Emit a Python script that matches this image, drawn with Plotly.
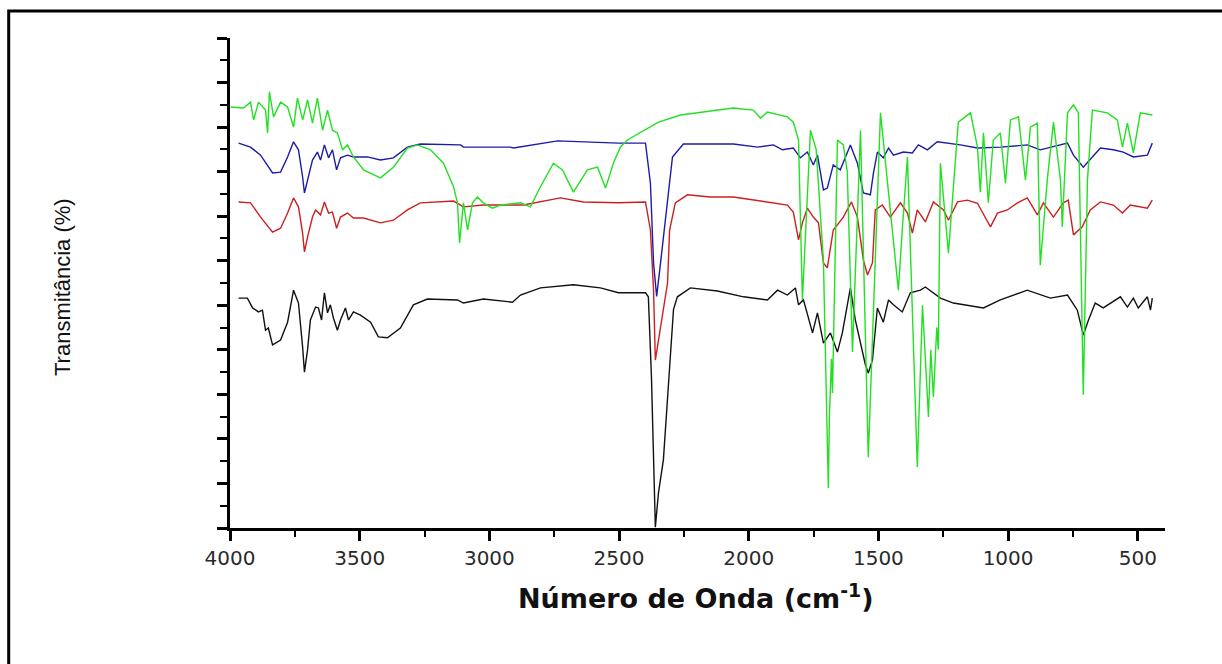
import plotly.graph_objects as go

# ---- Data (wavenumber in cm-1, transmittance in %) ----
black_wn = [3967, 3933, 3913, 3890, 3875, 3863, 3852, 3836, 3805, 3778, 3755, 3736, 3720, 3713, 3701,
            3690, 3670, 3659, 3647, 3636, 3624, 3613, 3601, 3586, 3574, 3555, 3543, 3524, 3497, 3458,
            3428, 3393, 3343, 3293, 3239, 3123, 3100, 3023, 2911, 2880, 2803, 2676, 2572, 2502, 2398,
            2387, 2375, 2367, 2360, 2348, 2329, 2310, 2290, 2275, 2225, 2121, 2020, 1928, 1889, 1851,
            1820, 1808, 1789, 1754, 1735, 1712, 1685, 1658, 1639, 1608, 1589, 1550, 1539, 1523, 1504,
            1481, 1461, 1442, 1408, 1377, 1338, 1319, 1288, 1261, 1211, 1095, 1030, 926, 837, 771,
            733, 710, 690, 664, 633, 606, 567, 540, 517, 498, 463, 451, 444]
black_t = [51.6, 51.6, 49.4, 48.5, 48.9, 44.4, 44.9, 41.1, 42.2, 46.2, 53.4, 50.5, 40.6, 35.0, 40.0,
           46.7, 49.6, 49.4, 46.7, 52.8, 48.3, 50.1, 47.1, 44.4, 46.7, 49.4, 46.7, 48.5, 47.8, 46.2,
           42.9, 42.7, 44.9, 50.1, 51.4, 51.2, 50.5, 51.4, 50.7, 52.3, 53.9, 54.6, 53.9, 52.8, 52.8,
           51.9, 33.9, 15.3, 0.2, 7.9, 15.3, 31.7, 49.1, 51.9, 53.9, 53.2, 51.9, 51.2, 53.4, 52.3,
           53.9, 50.1, 51.2, 43.8, 48.3, 41.5, 43.8, 39.5, 43.8, 53.9, 46.7, 36.6, 34.8, 37.7, 49.4,
           46.2, 51.2, 50.1, 48.5, 52.8, 53.4, 54.1, 52.8, 51.6, 50.5, 49.4, 51.2, 53.4, 51.6, 52.3,
           48.9, 43.3, 46.7, 50.5, 49.4, 50.5, 51.9, 49.6, 51.6, 49.4, 51.9, 48.9, 51.6]

red_wn = [3967, 3921, 3882, 3836, 3805, 3778, 3755, 3736, 3720, 3713, 3701, 3682, 3670, 3651, 3636,
          3620, 3605, 3589, 3574, 3547, 3524, 3485, 3420, 3370, 3316, 3266, 3138, 3100, 3023, 2869,
          2726, 2637, 2502, 2398, 2379, 2367, 2360, 2340, 2313, 2305, 2283, 2236, 2148, 2059, 1982,
          1916, 1851, 1828, 1808, 1793, 1774, 1751, 1731, 1712, 1697, 1674, 1635, 1604, 1581, 1558,
          1542, 1523, 1512, 1485, 1454, 1415, 1388, 1369, 1350, 1319, 1288, 1249, 1230, 1195, 1157,
          1118, 1068, 1041, 1003, 964, 926, 887, 864, 825, 787, 768, 748, 714, 683, 644,
          594, 559, 529, 463, 444]
red_t = [73.2, 73.0, 69.8, 66.4, 67.3, 70.7, 74.1, 72.1, 66.2, 62.0, 65.3, 69.8, 71.4, 70.3, 73.2,
         70.7, 70.9, 67.3, 69.8, 70.7, 69.6, 69.6, 68.5, 69.1, 71.4, 73.0, 73.4, 72.1, 72.5, 72.5,
         74.1, 73.2, 73.0, 73.2, 66.9, 53.4, 37.7, 45.1, 55.0, 66.9, 73.0, 74.8, 74.3, 74.3, 73.6,
         73.0, 72.5, 70.9, 64.7, 68.5, 71.8, 69.8, 68.5, 59.5, 58.4, 66.9, 69.8, 73.2, 69.8, 60.2,
         56.8, 59.5, 71.4, 72.5, 69.8, 73.0, 70.7, 66.2, 71.4, 68.7, 73.2, 71.4, 69.1, 73.2, 73.6,
         72.9, 67.6, 70.7, 71.4, 73.0, 74.1, 70.3, 73.0, 69.8, 73.0, 73.6, 65.8, 67.6, 71.4, 73.2,
         72.5, 70.7, 72.5, 71.8, 73.6]

blue_wn = [3967, 3921, 3882, 3836, 3805, 3778, 3755, 3736, 3720, 3713, 3701, 3682, 3663, 3651, 3636,
           3620, 3605, 3589, 3574, 3547, 3524, 3470, 3420, 3370, 3316, 3266, 3111, 3100, 2919, 2907,
           2737, 2502, 2398, 2379, 2367, 2355, 2340, 2313, 2294, 2252, 2059, 1966, 1905, 1870, 1828,
           1801, 1774, 1751, 1735, 1712, 1697, 1674, 1647, 1608, 1581, 1558, 1531, 1519, 1504, 1481,
           1461, 1442, 1404, 1369, 1346, 1311, 1273, 1184, 1118, 1030, 926, 876, 837, 771, 748,
           710, 675, 644, 594, 556, 517, 463, 444]
blue_t = [86.4, 85.5, 83.7, 79.7, 79.9, 83.3, 86.7, 84.9, 78.8, 75.2, 78.1, 82.6, 84.4, 82.6, 86.0,
          83.1, 84.9, 80.4, 83.1, 83.7, 83.3, 83.3, 82.6, 83.1, 85.5, 86.2, 86.0, 85.5, 85.5, 85.3,
          86.9, 86.4, 86.4, 77.4, 59.5, 52.0, 59.5, 74.3, 83.3, 86.2, 86.2, 85.5, 86.0, 84.9, 85.3,
          83.1, 84.4, 81.5, 83.7, 75.9, 76.3, 81.5, 80.4, 86.0, 81.9, 75.2, 74.8, 79.7, 84.4, 83.1,
          85.3, 83.7, 84.4, 84.2, 86.0, 84.9, 86.7, 86.0, 85.3, 85.5, 86.0, 84.9, 85.5, 86.4, 83.7,
          81.0, 83.3, 85.3, 84.9, 84.4, 83.3, 83.7, 86.4]

green_wn = [3998, 3948, 3921, 3909, 3890, 3863, 3855, 3848, 3832, 3805, 3778, 3755, 3740, 3720, 3701,
            3682, 3663, 3643, 3624, 3605, 3586, 3566, 3547, 3524, 3485, 3420, 3370, 3316, 3277, 3227,
            3177, 3138, 3123, 3115, 3100, 3084, 3065, 3046, 3023, 2988, 2957, 2880, 2842, 2803, 2753,
            2718, 2676, 2622, 2583, 2552, 2522, 2495, 2468, 2390, 2348, 2263, 2159, 2059, 1982, 1955,
            1928, 1851, 1828, 1808, 1793, 1762, 1740, 1712, 1693, 1689, 1681, 1677, 1658, 1635, 1620,
            1600, 1569, 1539, 1492, 1423, 1408, 1388, 1350, 1330, 1307, 1298, 1288, 1275, 1269, 1261,
            1230, 1192, 1145, 1118, 1107, 1095, 1076, 1057, 1030, 1010, 991, 960, 933, 914, 887,
            876, 849, 825, 798, 791, 771, 748, 729, 710, 694, 675, 617, 579, 559, 540,
            517, 490, 444]
green_t = [94.5, 94.3, 95.6, 91.6, 95.6, 93.8, 88.7, 97.9, 92.3, 95.6, 94.5, 90.0, 96.5, 91.6, 96.1,
           90.9, 96.5, 89.3, 93.8, 89.3, 88.7, 84.9, 86.0, 83.3, 80.4, 78.6, 81.0, 85.3, 86.0, 84.9,
           81.9, 76.6, 73.0, 64.0, 73.0, 66.9, 73.0, 74.3, 73.0, 71.8, 72.5, 73.0, 72.1, 76.6, 81.9,
           80.4, 75.4, 80.4, 81.0, 76.3, 81.9, 85.5, 87.1, 89.8, 91.1, 92.7, 93.6, 94.3, 93.8, 92.0,
           93.4, 92.3, 91.1, 87.1, 51.2, 89.3, 85.0, 60.0, 9.0, 25.0, 38.0, 30.3, 87.1, 86.0, 80.0,
           39.5, 89.3, 15.9, 93.2, 53.4, 66.9, 83.3, 13.7, 50.0, 24.9, 40.0, 29.4, 45.0, 40.0, 81.9,
           61.7, 91.1, 93.2, 85.5, 75.4, 88.7, 73.0, 87.1, 88.7, 77.4, 91.6, 92.3, 78.1, 90.0, 90.9,
           59.0, 78.1, 91.1, 78.1, 67.6, 93.2, 95.0, 93.2, 29.9, 78.1, 93.8, 93.2, 91.6, 85.5, 90.9,
           84.2, 93.2, 92.7]

x_tick_vals = [4000, 3500, 3000, 2500, 2000, 1500, 1000, 500]
x_tick_text = ["4000", "3500", "3000", "2500", "2000", "1500", "1000", "500"]

series = [
    (black_wn, black_t, "#111111"),
    (red_wn, red_t, "#cc1f1f"),
    (blue_wn, blue_t, "#1c1ca8"),
    (green_wn, green_t, "#22e022"),
]

fig = go.Figure()
for wn, t, col in series:
    fig.add_trace(go.Scatter(x=wn, y=t, mode="lines",
                             line=dict(color=col, width=1.4), showlegend=False))

L, R, T, B = 230, 57, 38, 136
W, H = 1222, 664
pw, ph = W - L - R, H - T - B

fig.update_layout(
    width=W, height=H,
    margin=dict(l=L, r=R, t=T, b=B, pad=0),
    paper_bgcolor="white", plot_bgcolor="white",
    showlegend=False,
    xaxis=dict(
        range=[4000, 395], tickvals=x_tick_vals, ticktext=x_tick_text,
        showgrid=False, zeroline=False,
        showline=True, linecolor="black", linewidth=3,
        ticks="outside", ticklen=10, tickwidth=3, tickcolor="black",
        minor=dict(dtick=250, tick0=0, ticks="outside", ticklen=6, tickwidth=2, tickcolor="black", showgrid=False),
        tickfont=dict(family="DejaVu Sans", size=20, color="#2a2a2a"),
    ),
    yaxis=dict(
        range=[0, 110], tick0=0, dtick=10,
        showgrid=False, zeroline=False,
        showline=True, linecolor="black", linewidth=3,
        ticks="outside", ticklen=10, tickwidth=3, tickcolor="black",
        minor=dict(dtick=5, tick0=0, ticks="outside", ticklen=7, tickwidth=2, tickcolor="black", showgrid=False),
        showticklabels=False,
    ),
    annotations=[
        dict(text="<b>Número de Onda (cm<sup>-1</sup>)</b>", xref="paper", yref="paper",
             x=(696 - L) / pw, y=(H - B - 596) / ph, xanchor="center", yanchor="middle",
             showarrow=False, font=dict(family="DejaVu Sans", size=27, color="#111111")),
        dict(text="Transmitância (%)", xref="paper", yref="paper",
             x=(62 - L) / pw, y=(H - B - 287) / ph, xanchor="center", yanchor="middle",
             textangle=-90, showarrow=False,
             font=dict(family="Liberation Sans", size=22, color="#111111")),
    ],
    shapes=[
        dict(type="rect", xref="paper", yref="paper",
             x0=(8.7 - L) / pw, x1=1.2, y0=-0.5, y1=(H - B - 11) / ph,
             line=dict(color="black", width=3), fillcolor="rgba(0,0,0,0)", layer="below"),
    ],
)

fig.write_html("out.html")
